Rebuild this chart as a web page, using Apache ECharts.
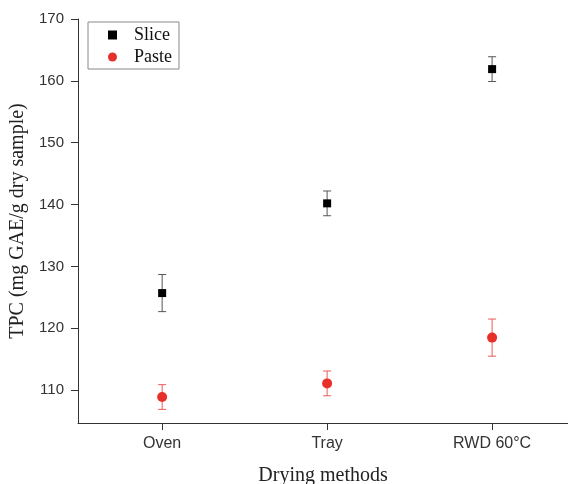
<!DOCTYPE html>
<html>
<head>
<meta charset="utf-8">
<script src="https://cdn.jsdelivr.net/npm/echarts@6/dist/echarts.min.js"></script>
<style>
  html, body { margin: 0; padding: 0; background: #fff; }
  #main { width: 568px; height: 484px; }
</style>
</head>
<body>
<div id="main"></div>
<script>
// drying methods on the x axis
var categories = ['Oven', 'Tray', 'RWD 60°C'];
var slice = [125.7, 140.2, 161.9];
var sliceErr = [3.0, 2.0, 2.0];
var paste = [108.9, 111.1, 118.5];
var pasteErr = [2.0, 2.0, 3.0];
var yTicks = [110, 120, 130, 140, 150, 160, 170];

var chart = echarts.init(document.getElementById('main'));

function points(vals) {
  return vals.map(function (v, i) { return [i + 1, v]; });
}
function bars(vals, errs) {
  return vals.map(function (v, i) { return [i + 1, v - errs[i], v + errs[i]]; });
}

function errorItem(color) {
  return function (params, api) {
    var lo = api.coord([api.value(0), api.value(1)]);
    var hi = api.coord([api.value(0), api.value(2)]);
    var w = 4;
    var st = { stroke: color, lineWidth: 1 };
    return {
      type: 'group',
      children: [
        { type: 'line', shape: { x1: lo[0], y1: lo[1], x2: hi[0], y2: hi[1] }, style: st },
        { type: 'line', shape: { x1: lo[0] - w, y1: lo[1], x2: lo[0] + w, y2: lo[1] }, style: st },
        { type: 'line', shape: { x1: hi[0] - w, y1: hi[1], x2: hi[0] + w, y2: hi[1] }, style: st }
      ]
    };
  };
}

var sansFont = '"Liberation Sans", Arial, sans-serif';
var serifFont = '"Liberation Serif", "Times New Roman", serif';

chart.setOption({
  animation: false,
  grid: { left: 78, right: 0, top: 19, bottom: 61, containLabel: false, outerBoundsMode: 'none' },
  legend: {
    left: 88, top: 22,
    orient: 'vertical',
    data: [{ name: 'Slice', icon: 'rect' }, { name: 'Paste', icon: 'circle' }],
    itemWidth: 9, itemHeight: 9, itemGap: 4,
    padding: [4, 7, 3, 20],
    borderColor: '#888', borderWidth: 1,
    textStyle: { fontFamily: serifFont, fontSize: 18, color: '#111', padding: [0, 0, 0, 12] }
  },
  xAxis: {
    type: 'value',
    min: 0.49, max: 3.46,
    name: 'Drying methods',
    nameLocation: 'middle',
    nameGap: 43,
    nameTextStyle: { fontFamily: serifFont, fontSize: 20, color: '#222' },
    splitLine: { show: false },
    axisLine: { lineStyle: { color: '#333', width: 1 } },
    axisTick: { customValues: [1, 2, 3], length: 7, lineStyle: { color: '#333' } },
    axisLabel: {
      customValues: [1, 2, 3],
      margin: 13,
      fontFamily: sansFont, fontSize: 16, color: '#333',
      formatter: function (v) { return categories[Math.round(v) - 1]; }
    }
  },
  yAxis: {
    type: 'value',
    min: 104.7, max: 170,
    name: 'TPC (mg GAE/g dry sample)',
    nameLocation: 'middle',
    nameGap: 43,
    nameTextStyle: { fontFamily: serifFont, fontSize: 20, color: '#222' },
    splitLine: { show: false },
    axisLine: { show: true, lineStyle: { color: '#333', width: 1 } },
    axisTick: { customValues: yTicks, length: 7, lineStyle: { color: '#333' } },
    axisLabel: { customValues: yTicks, margin: 14, fontFamily: sansFont, fontSize: 15, color: '#333' }
  },
  series: [
    {
      name: 'Slice', type: 'scatter', symbol: 'rect', symbolSize: 8,
      itemStyle: { color: '#000', opacity: 1 }, z: 3,
      data: points(slice)
    },
    {
      name: 'Paste', type: 'scatter', symbol: 'circle', symbolSize: 10,
      itemStyle: { color: '#e8302a', opacity: 1 }, z: 3,
      data: points(paste)
    },
    {
      name: 'Slice', type: 'custom', renderItem: errorItem('#555'),
      encode: { x: 0, y: [1, 2] }, z: 2,
      data: bars(slice, sliceErr)
    },
    {
      name: 'Paste', type: 'custom', renderItem: errorItem('#ee5a55'),
      encode: { x: 0, y: [1, 2] }, z: 2,
      data: bars(paste, pasteErr)
    }
  ]
});
</script>
</body>
</html>
